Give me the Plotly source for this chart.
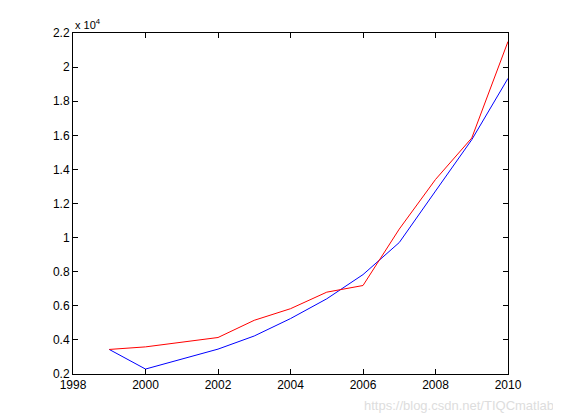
import plotly.graph_objects as go

years = [1999, 2000, 2001, 2002, 2003, 2004, 2005, 2006, 2007, 2008, 2009, 2010]
blue_vals = [0.344, 0.229, None, 0.346, 0.423, 0.525, 0.641, 0.783, 0.971, 1.273, 1.574, 1.934]
red_vals = [0.344, 0.359, None, 0.414, 0.515, 0.583, 0.680, 0.719, 1.050, 1.341, 1.584, 2.150]

def clean(v):
    xs = [y for y, a in zip(years, v) if a is not None]
    ys = [a for a in v if a is not None]
    return xs, ys

fig = go.Figure()
bx, by = clean(blue_vals)
rx, ry = clean(red_vals)
fig.add_trace(go.Scatter(x=bx, y=by, mode="lines", line=dict(color="#0000ff", width=1)))
fig.add_trace(go.Scatter(x=rx, y=ry, mode="lines", line=dict(color="#ff0000", width=1)))

ax = dict(showgrid=False, zeroline=False, showline=True, linecolor="black", linewidth=1,
          mirror="ticks", ticks="inside", ticklen=5, tickcolor="black",
          tickfont=dict(family="Liberation Sans, Arial", size=12, color="black"))
fig.update_xaxes(range=[1998, 2010], dtick=2, **ax)
fig.update_yaxes(range=[0.2, 2.2], dtick=0.2, tickformat="~g", **ax)
fig.update_layout(width=561, height=420, margin=dict(l=65, r=61, t=25, b=54),
                  plot_bgcolor="white", paper_bgcolor="white", showlegend=False,
                  annotations=[
                      dict(text="x 10<sup>4</sup>", x=0, y=1, xref="paper", yref="paper",
                           xanchor="left", yanchor="bottom", showarrow=False,
                           font=dict(family="Liberation Sans, Arial", size=11, color="black")),
                      dict(text="https://blog.csdn.net/TIQCmatlab", x=1, y=0, xref="paper", yref="paper",
                           xanchor="right", yanchor="top", yshift=-22, xshift=48, showarrow=False,
                           font=dict(family="Liberation Sans, Arial", size=13, color="#dddddd"))])
fig.write_html("out.html")
